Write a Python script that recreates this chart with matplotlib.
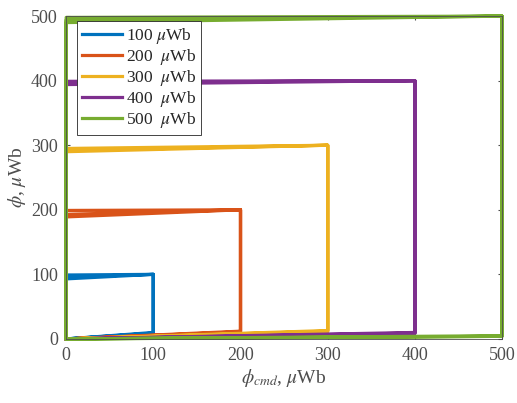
import matplotlib.pyplot as plt
import numpy as np

plt.rcParams['font.family'] = 'Liberation Serif'
plt.rcParams['mathtext.fontset'] = 'stix'

# commanded flux amplitudes (uWb) and the measured loop corners per cycle
amps = [100, 200, 300, 400, 500]
labels = ['100 $\\mu$Wb', '200  $\\mu$Wb', '300  $\\mu$Wb', '400  $\\mu$Wb', '500  $\\mu$Wb']
colors = ['#0072BD', '#D95319', '#EDB120', '#7E2F8E', '#77AC30']
# flux at end of the rising edge (bottom right), per cycle
bottom_end = [[9, 10, 8], [11, 12, 10], [12, 13, 11], [9, 10, 8], [4, 5, 4]]
# flux left when command returns to zero (top left), per cycle
top_end = [[93, 96, 99], [189, 193, 199], [290, 292, 295], [394, 397, 399], [490, 494, 498]]

fig = plt.figure(figsize=(5.17, 4.03), dpi=100)
ax = fig.add_axes([0.128, 0.159, 0.843, 0.801])

for A, lab, c, be, te in zip(amps, labels, colors, bottom_end, top_end):
    x = []
    y = []
    for b, t in zip(be, te):
        x += [0, A, A, 0, 0]
        y += [0, b, A, t, 0]
    ax.plot(x, y, color=c, linewidth=2.3, label=lab, clip_on=False)

ax.set_xlim(0, 500)
ax.set_ylim(0, 500)
ax.set_xticks(np.arange(0, 501, 100))
ax.set_yticks(np.arange(0, 501, 100))
ax.tick_params(direction='in', labelsize=13, colors='#4d4d4d', length=3,
               top=True, right=True, pad=6)
for s in ax.spines.values():
    s.set_color('#4d4d4d')
    s.set_linewidth(0.6)
ax.set_xlabel('$\\phi_{cmd}$, $\\mu$Wb', fontsize=14, color='#4d4d4d', labelpad=2)
ax.set_ylabel('$\\phi$, $\\mu$Wb', fontsize=14, color='#4d4d4d', labelpad=2)

leg = ax.legend(loc='upper left', bbox_to_anchor=(0.025, 0.985), fontsize=12.5,
                fancybox=False, framealpha=1, edgecolor='#262626',
                handlelength=2.3, handletextpad=0.2, labelspacing=0.05,
                borderpad=0.3, borderaxespad=0)
leg.get_frame().set_linewidth(0.6)
for t in leg.get_texts():
    t.set_color('#262626')

plt.savefig('out.png', dpi=100)
